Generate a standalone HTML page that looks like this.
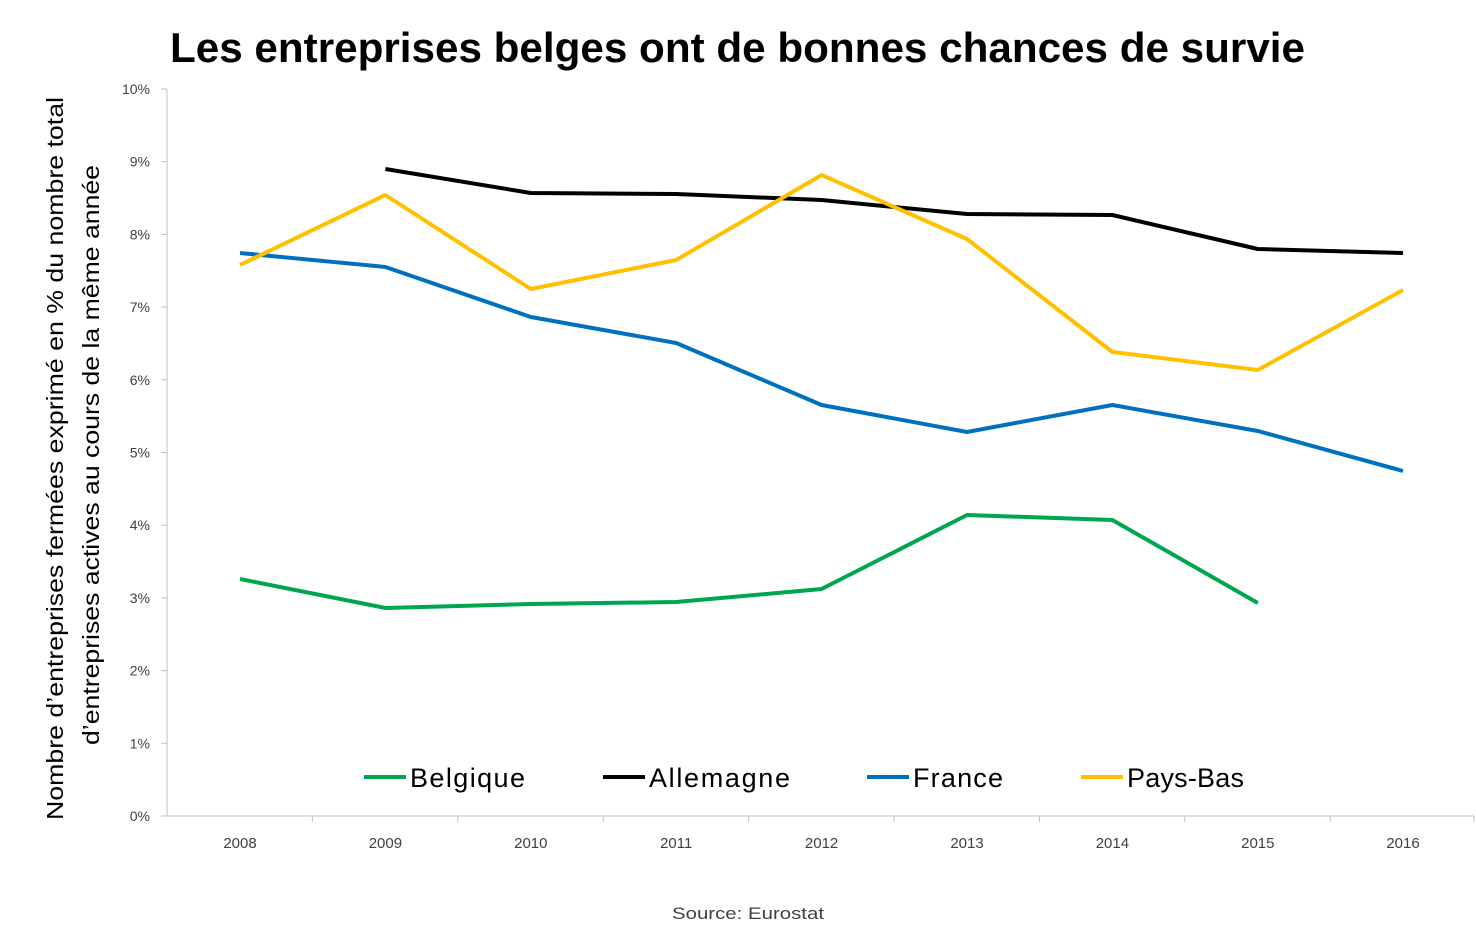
<!DOCTYPE html>
<html><head><meta charset="utf-8"><style>body{margin:0;background:#fff}svg{display:block}</style></head>
<body>
<svg width="1476" height="945" xmlns="http://www.w3.org/2000/svg" font-family="Liberation Sans, sans-serif">
<text x="170" y="62" textLength="1135" lengthAdjust="spacingAndGlyphs" font-size="42" font-weight="bold" fill="#000">Les entreprises belges ont de bonnes chances de survie</text>
<g stroke="#bfbfbf" stroke-width="1">
<line x1="167" y1="89" x2="167" y2="816"/>
<line x1="167" y1="816" x2="1474" y2="816"/>
<line x1="161" y1="89" x2="167" y2="89"/><line x1="161" y1="161.7" x2="167" y2="161.7"/>
<line x1="161" y1="234.4" x2="167" y2="234.4"/><line x1="161" y1="307.1" x2="167" y2="307.1"/>
<line x1="161" y1="379.8" x2="167" y2="379.8"/><line x1="161" y1="452.5" x2="167" y2="452.5"/>
<line x1="161" y1="525.2" x2="167" y2="525.2"/><line x1="161" y1="597.9" x2="167" y2="597.9"/>
<line x1="161" y1="670.6" x2="167" y2="670.6"/><line x1="161" y1="743.3" x2="167" y2="743.3"/>
<line x1="161" y1="816" x2="167" y2="816"/>
<line x1="312.4" y1="816" x2="312.4" y2="822"/><line x1="457.8" y1="816" x2="457.8" y2="822"/>
<line x1="603.2" y1="816" x2="603.2" y2="822"/><line x1="748.6" y1="816" x2="748.6" y2="822"/>
<line x1="894" y1="816" x2="894" y2="822"/><line x1="1039.4" y1="816" x2="1039.4" y2="822"/>
<line x1="1184.8" y1="816" x2="1184.8" y2="822"/><line x1="1330.2" y1="816" x2="1330.2" y2="822"/>
<line x1="1474" y1="816" x2="1474" y2="822"/>
</g>
<g font-size="14" fill="#404040" text-anchor="end">
<text x="150" y="94">10%</text><text x="150" y="166.7">9%</text><text x="150" y="239.4">8%</text>
<text x="150" y="312.1">7%</text><text x="150" y="384.8">6%</text><text x="150" y="457.5">5%</text>
<text x="150" y="530.2">4%</text><text x="150" y="602.9">3%</text><text x="150" y="675.6">2%</text>
<text x="150" y="748.3">1%</text><text x="150" y="821">0%</text>
</g>
<g font-size="15" fill="#404040" text-anchor="middle">
<text x="240" y="848">2008</text><text x="385.4" y="848">2009</text><text x="530.8" y="848">2010</text>
<text x="676.2" y="848">2011</text><text x="821.6" y="848">2012</text><text x="967" y="848">2013</text>
<text x="1112.4" y="848">2014</text><text x="1257.8" y="848">2015</text><text x="1403" y="848">2016</text>
</g>
<text transform="translate(63,820) rotate(-90)" font-size="23" fill="#000" textLength="723" lengthAdjust="spacingAndGlyphs">Nombre d’entreprises fermées exprimé en % du nombre total</text>
<text transform="translate(99,745) rotate(-90)" font-size="23" fill="#000" textLength="580" lengthAdjust="spacingAndGlyphs">d’entreprises actives au cours de la même année</text>
<g fill="none" stroke-width="4" stroke-linejoin="round">
<polyline stroke="#00a550" points="240,579 385.4,608 530.8,604 676.2,602 821.6,589 967,515 1112.4,520 1257.8,603"/>
<polyline stroke="#000" points="385.4,169 530.8,193 676.2,194 821.6,200 967,214 1112.4,215 1257.8,249 1403,253"/>
<polyline stroke="#0070c0" points="240,253 385.4,267 530.8,317 676.2,343 821.6,405 967,432 1112.4,405 1257.8,431 1403,471"/>
<polyline stroke="#ffc000" points="240,265 385.4,195 530.8,289 676.2,260 821.6,175 967,239 1112.4,352 1257.8,370 1403,290"/>
</g>
<g stroke-width="4">
<line x1="364" y1="777" x2="406" y2="777" stroke="#00a550"/>
<line x1="603" y1="777" x2="645" y2="777" stroke="#000"/>
<line x1="867" y1="777" x2="909" y2="777" stroke="#0070c0"/>
<line x1="1081" y1="777" x2="1123" y2="777" stroke="#ffc000"/>
</g>
<g font-size="27" fill="#000" lengthAdjust="spacingAndGlyphs">
<text x="410" y="787" textLength="115">Belgique</text><text x="649" y="787" textLength="141">Allemagne</text>
<text x="913" y="787" textLength="90">France</text><text x="1127" y="787" textLength="117">Pays-Bas</text>
</g>
<text x="672" y="919" font-size="17" fill="#404040" textLength="152" lengthAdjust="spacingAndGlyphs">Source: Eurostat</text>
</svg>
</body></html>
